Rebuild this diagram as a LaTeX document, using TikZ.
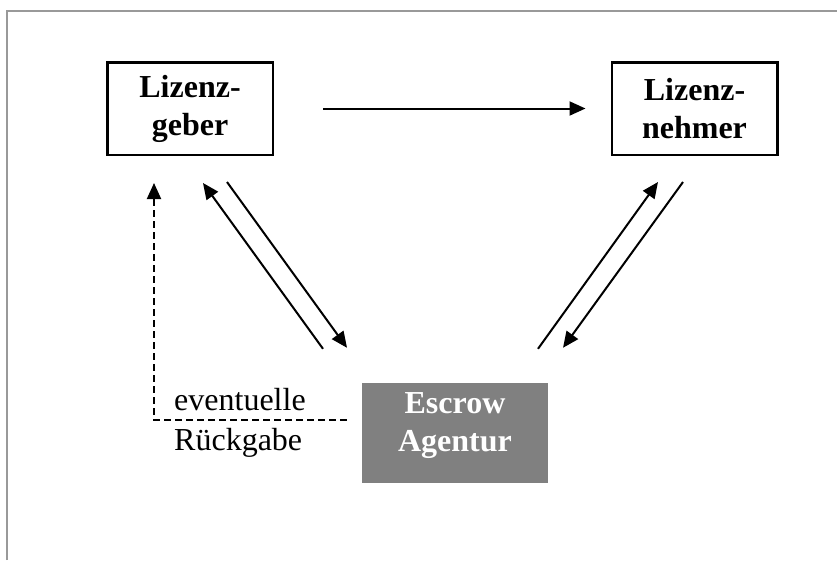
\documentclass[tikz,border=0pt]{standalone}
\usepackage{fontspec}
\setmainfont{Liberation Serif}
\usetikzlibrary{arrows.meta}
\tikzset{
    party/.style={draw, line width=2.5pt, minimum width=165.5pt, minimum height=92.5pt, align=center, font=\fontsize{32}{38}\selectfont\bfseries}, % Vertragspartei
    agent/.style={fill=black!50, minimum width=186pt, minimum height=100pt}, % Treuhaender
    flow/.style={line width=2pt, -{Triangle[length=16pt, width=14pt]}} % Pfeile zwischen den Parteien
}

\begin{document}
\begin{tikzpicture}[x=1pt, y=-1pt]
    \useasboundingbox (0,0) rectangle (837,560);
    \draw[black!40, line width=2pt] (7,560) -- (7,11) -- (837,11);

    \node[party] (geber) at (190,108.5) {Lizenz-\\geber};
    \node[party] (nehmer) at (694.5,108.5) {Lizenz-\\nehmer};
    \node[agent, label={[white, yshift=7pt, align=center, font=\fontsize{32}{38}\selectfont\bfseries]center:{Escrow\\Agentur}}] (escrow) at (455,433) {};

    \draw[flow] ([shift={(49,0)}]geber.east) -- ([shift={(-25,0)}]nehmer.west);

    % links: Hinterlegung und Herausgabe
    \draw[flow] ([shift={(-132,-34)}]escrow.north) -- ([shift={(13,27)}]geber.south);
    \draw[flow] ([shift={(37,26)}]geber.south) -- ([shift={(-108,-35)}]escrow.north);
    % rechts
    \draw[flow] ([shift={(83,-34)}]escrow.north) -- ([shift={(-36.5,26)}]nehmer.south);
    \draw[flow] ([shift={(-11.5,26)}]nehmer.south) -- ([shift={(108,-35)}]escrow.north);

    \draw[flow, dash pattern=on 7pt off 4pt] ([shift={(-15,-13)}]escrow.west) -| ([shift={(-36,27)}]geber.south);
    \node[anchor=base west, align=left, inner sep=0pt, font=\fontsize{32}{40}\selectfont] (note) at (174,450) {eventuelle\\Rückgabe};
\end{tikzpicture}
\end{document}
